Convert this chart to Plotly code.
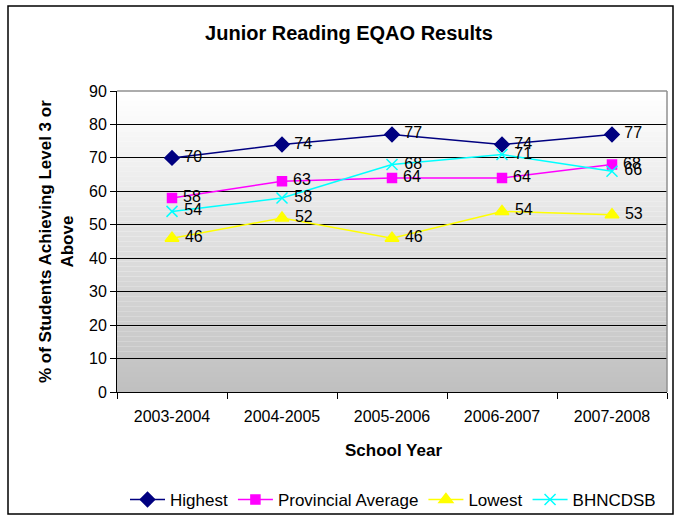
import plotly.graph_objects as go

years = ["2003-2004", "2004-2005", "2005-2006", "2006-2007", "2007-2008"]
highest = [70, 74, 77, 74, 77]
provincial = [58, 63, 64, 64, 68]
lowest = [46, 52, 46, 54, 53]
bhncdsb = [54, 58, 68, 71, 66]
y_ticks = [0, 10, 20, 30, 40, 50, 60, 70, 80, 90]

W, H = 681, 519
L, R, T, B = 117, 667, 91, 392

FONT = "Arial, Liberation Sans, sans-serif"

series = [
    ("Highest", highest, "#000080", "diamond", 11),
    ("Provincial Average", provincial, "#FF00FF", "square", 9),
    ("Lowest", lowest, "#FFFF00", "triangle-up", 12),
    ("BHNCDSB", bhncdsb, "#00FFFF", "x-thin-open", 11),
]

fig = go.Figure()
for name, vals, color, sym, size in series:
    fig.add_trace(go.Scatter(
        x=years, y=vals, name=name, mode="lines+markers+text",
        line=dict(color=color, width=1.5),
        marker=dict(symbol=sym, size=size, color=color,
                    line=dict(color=color, width=1.5)),
        text=[" " + str(v) for v in vals], textposition="middle right",
        textfont=dict(family=FONT, size=16, color="black"),
        cliponaxis=False,
    ))

pw, ph = R - L, B - T
def px2x(px): return (px - L) / pw
def py2y(py): return (B - py) / ph

# gradient background
shapes = []
N = 60
for i in range(N):
    f = i / (N - 1)
    c = int(round(255 - (255 - 192) * f))
    shapes.append(dict(type="rect", xref="x domain", yref="y domain",
                       x0=0, x1=1, y0=1 - (i + 1) / N, y1=1 - i / N,
                       fillcolor=f"rgb({c},{c},{c})", line=dict(width=0),
                       layer="below"))
# plot area border (gray) on top & right
shapes.append(dict(type="line", xref="x domain", yref="y domain",
                   x0=0, x1=1, y0=1, y1=1,
                   line=dict(color="#909090", width=1.5), layer="above"))
shapes.append(dict(type="line", xref="x domain", yref="y domain",
                   x0=1, x1=1, y0=0, y1=1,
                   line=dict(color="#909090", width=1.5), layer="above"))
# outer chart border
shapes.append(dict(type="rect", xref="paper", yref="paper",
                   x0=px2x(8), x1=px2x(673), y0=py2y(514), y1=py2y(6),
                   line=dict(color="black", width=1.5)))

annotations = [
    dict(text="<b>School Year</b>", xref="paper", yref="paper",
         x=px2x(393), y=py2y(450), xanchor="center", yanchor="middle",
         showarrow=False, font=dict(size=17, family=FONT)),
    dict(text="<b>% of Students Achieving Level 3 or<br>Above</b>",
         xref="paper", yref="paper", x=px2x(56), y=py2y(242),
         xanchor="center", yanchor="middle", textangle=-90,
         showarrow=False, font=dict(size=17, family=FONT)),
]

fig.update_layout(
    width=W, height=H,
    margin=dict(l=L, r=W - R, t=T, b=H - B, autoexpand=False),
    paper_bgcolor="white", plot_bgcolor="white",
    font=dict(family=FONT, size=16, color="black"),
    title=dict(text="<b>Junior Reading EQAO Results</b>", x=px2x(349),
               xref="paper", xanchor="center", y=1 - 33 / H,
               yanchor="middle", font=dict(size=20, family=FONT)),
    shapes=shapes,
    annotations=annotations,
    showlegend=True,
    legend=dict(orientation="h", x=px2x(393), xanchor="center",
                y=py2y(500), yanchor="middle",
                font=dict(size=17, family=FONT),
                bgcolor="rgba(0,0,0,0)", itemwidth=35,
                tracegroupgap=0),
    xaxis=dict(type="category", range=[-0.5, 4.5], tickson="boundaries",
               ticks="outside", ticklen=6, tickcolor="black",
               showline=True, linecolor="black", linewidth=1,
               showgrid=False, tickfont=dict(size=16), automargin=False,
               ticklabelstandoff=10),
    yaxis=dict(range=[0, 90], tickvals=y_ticks, ticks="outside", ticklen=6,
               tickcolor="black", showline=True, linecolor="black",
               linewidth=1, showgrid=True, gridcolor="black", gridwidth=1,
               zeroline=False, tickfont=dict(size=16), automargin=False),
)

fig.write_html("out.html", config={"displayModeBar": False},
               post_script="document.body.style.margin='0';"
                           "document.body.style.overflow='hidden';")
